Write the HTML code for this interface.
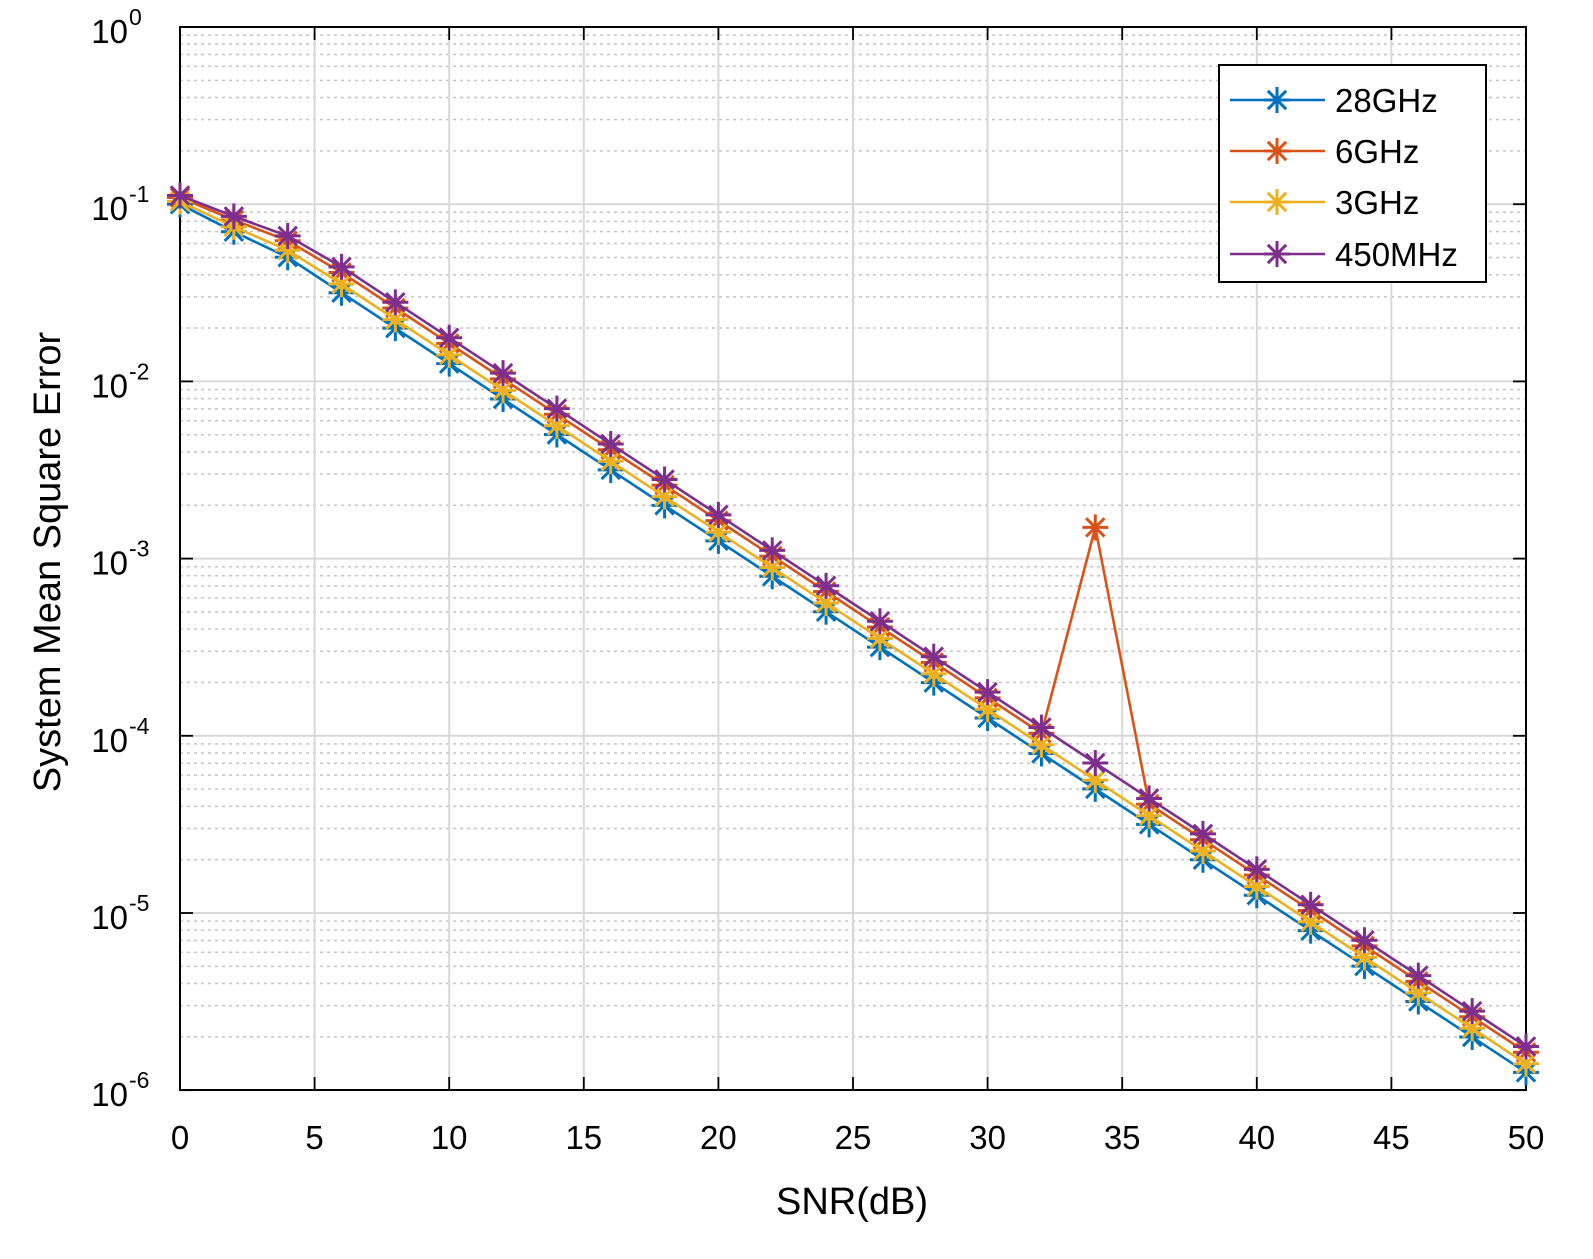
<!DOCTYPE html>
<html><head><meta charset="utf-8"><style>
html,body{margin:0;padding:0;background:#fff;}
svg{display:block;font-family:"Liberation Sans",Arial,sans-serif;}
</style></head><body>
<svg id="s" width="1593" height="1259" viewBox="0 0 1593 1259" xmlns="http://www.w3.org/2000/svg"></svg>
<script>
const s=document.getElementById('s');
const X=x=>180+x*26.92, Y=v=>27-Math.log10(v)*177.2;
let h='';
for(let d=0;d<6;d++){for(let k=2;k<=9;k++){const y=Y(Math.pow(10,-d-1)*k);h+=`<line x1="180" x2="1526" y1="${y}" y2="${y}" stroke="#c4c4c4" stroke-width="1.5" stroke-dasharray="3,4"/>`;}}
for(let d=1;d<6;d++){const y=Y(Math.pow(10,-d));h+=`<line x1="180" x2="1526" y1="${y}" y2="${y}" stroke="#d8d8d8" stroke-width="2"/>`;}
for(let x=5;x<50;x+=5){h+=`<line x1="${X(x)}" x2="${X(x)}" y1="27" y2="1090" stroke="#d8d8d8" stroke-width="2"/>`;}
for(let x=0;x<=50;x+=5){const px=X(x);h+=`<line x1="${px}" x2="${px}" y1="1090" y2="1077" stroke="#000" stroke-width="1.8"/><line x1="${px}" x2="${px}" y1="27" y2="40" stroke="#000" stroke-width="1.8"/>`;
h+=`<text x="${px}" y="1149" font-size="33" text-anchor="middle">${x}</text>`;}
for(let d=0;d<=6;d++){const y=Y(Math.pow(10,-d));h+=`<line x1="180" x2="193" y1="${y}" y2="${y}" stroke="#000" stroke-width="1.8"/><line x1="1513" x2="1526" y1="${y}" y2="${y}" stroke="#000" stroke-width="1.8"/>`;
h+=`<text x="128" y="${y+16}" font-size="33" text-anchor="end">10</text><text x="129" y="${y-2}" font-size="23">${d==0?'0':'-'+d}</text>`;}
h+=`<rect x="180" y="27" width="1346" height="1063" fill="none" stroke="#000" stroke-width="2"/>`;
const base=x=>x==0?0.1:0.126*Math.pow(10,-x/10)*(x==2?0.88:1);
const cols=['#0072BD','#D95319','#EDB120','#7E2F8E'];
const fac=[1,1.3,1.12,1.4];
function star(cx,cy,c,r=13){let o='';for(let a=0;a<4;a++){const t=a*Math.PI/4;o+=`<line x1="${cx-r*Math.cos(t)}" y1="${cy-r*Math.sin(t)}" x2="${cx+r*Math.cos(t)}" y2="${cy+r*Math.sin(t)}" stroke="${c}" stroke-width="3"/>`;}return o;}
for(let i=0;i<4;i++){let pts=[];for(let x=0;x<=50;x+=2){const f=1+(fac[i]-1)*Math.min(1,0.3+x/8);let v=base(x)*f;if(i==1&&x==34)v=1.5e-3;pts.push([X(x),Y(v)]);}
h+=`<polyline fill="none" stroke="${cols[i]}" stroke-width="2.6" points="${pts.map(p=>p.join(',')).join(' ')}"/>`;
pts.forEach(p=>h+=star(p[0],p[1],cols[i]));}
h+=`<rect x="1219" y="65" width="267" height="217" fill="#fff" stroke="#000" stroke-width="2"/>`;
const names=['28GHz','6GHz','3GHz','450MHz'];
[100,151,202,254].forEach((y,i)=>{h+=`<line x1="1230" x2="1325" y1="${y}" y2="${y}" stroke="${cols[i]}" stroke-width="2.6"/>`+star(1277,y,cols[i])+`<text x="1335" y="${y+12}" font-size="33">${names[i]}</text>`;});
h+=`<text x="852" y="1214" font-size="38" text-anchor="middle">SNR(dB)</text>`;
h+=`<text transform="translate(60,562) rotate(-90)" font-size="38" text-anchor="middle">System Mean Square Error</text>`;
s.innerHTML=h;
</script>
</body></html>
